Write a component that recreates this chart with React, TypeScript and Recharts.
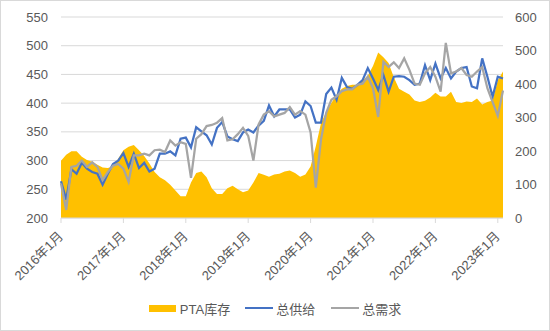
import { Area, CartesianGrid, ComposedChart, Legend, Line, XAxis, YAxis } from "recharts";

const years = [2016, 2017, 2018, 2019, 2020, 2021, 2022, 2023];
const lastYearMonths = 2;

// PTA库存 (right axis)
const inventory = [
  171, 189, 199, 199, 183, 173, 168, 159, 151, 149, 154, 177,
  202, 213, 218, 202, 185, 163, 137, 122, 113, 99, 82, 65,
  65, 106, 134, 139, 122, 89, 72, 72, 89, 96, 86, 77,
  82, 106, 134, 129, 123, 130, 132, 139, 142, 134, 123, 130,
  154, 214, 283, 317, 343, 369, 386, 394, 398, 398, 411, 425,
  454, 494, 480, 463, 420, 386, 377, 369, 351, 346, 350, 360,
  374, 363, 363, 377, 346, 343, 348, 346, 357, 339, 346, 351,
  411, 437,
];

// 总供给 (left axis)
const supply = [
  264, 232, 285, 277, 296, 286, 280, 277, 258, 277, 294, 300,
  313, 289, 312, 287, 296, 281, 286, 312, 312, 316, 309, 338,
  340, 323, 358, 351, 344, 328, 357, 367, 342, 337, 334, 349,
  354, 349, 361, 369, 396, 377, 389, 389, 389, 375, 380, 403,
  395, 366, 366, 416, 427, 406, 444, 428, 425, 432, 440, 461,
  443, 423, 449, 420, 446, 447, 446, 440, 432, 434, 466, 440,
  469, 443, 461, 443, 455, 461, 463, 429, 426, 478, 446, 411,
  446, 443,
];

// 总需求 (left axis)
const demand = [
  260, 214, 289, 291, 300, 289, 297, 289, 266, 280, 291, 294,
  286, 263, 309, 309, 312, 309, 318, 319, 315, 335, 326, 332,
  329, 270, 338, 346, 360, 362, 366, 374, 335, 337, 346, 357,
  343, 300, 363, 380, 386, 377, 380, 383, 393, 380, 386, 380,
  349, 253, 337, 383, 406, 412, 421, 424, 424, 432, 434, 446,
  426, 376, 472, 463, 471, 461, 478, 458, 434, 432, 452, 463,
  446, 420, 505, 452, 455, 461, 449, 446, 455, 463, 426, 402,
  378, 422,
];

const leftTicks = [200, 250, 300, 350, 400, 450, 500, 550];
const rightTicks = [0, 100, 200, 300, 400, 500, 600];

const months: string[] = [];
years.forEach((y, yi) => {
  const count = yi === years.length - 1 ? lastYearMonths : 12;
  for (let m = 1; m <= count; m++) months.push(`${y}年${m}月`);
});

const data = months.map((label, i) => ({
  label,
  inventory: inventory[i],
  supply: supply[i],
  demand: demand[i],
}));

const FONT = '"Liberation Sans", "Noto Sans CJK SC", sans-serif';
const TEXT = "#595959";

function XTick(props: any) {
  const { x, y, payload } = props;
  return (
    <text
      x={x + 3}
      y={y + 12}
      textAnchor="end"
      fill={TEXT}
      fontSize={13}
      fontFamily={FONT}
      transform={`rotate(-45, ${x + 3}, ${y + 12})`}
    >
      {payload.value}
    </text>
  );
}

function LegendBox() {
  const item = { display: "flex", alignItems: "center" } as const;
  return (
    <div
      style={{
        display: "flex",
        justifyContent: "center",
        alignItems: "center",
        height: 24,
        fontFamily: FONT,
        fontSize: 13,
        color: TEXT,
      }}
    >
      <div style={item}>
        <span style={{ width: 27, height: 7, background: "#FFC000", marginRight: 4 }} />
        PTA库存
      </div>
      <div style={{ ...item, marginLeft: 15 }}>
        <span style={{ width: 28, height: 2, background: "#4472C4", marginRight: 3 }} />
        总供给
      </div>
      <div style={{ ...item, marginLeft: 16 }}>
        <span style={{ width: 28, height: 2, background: "#A5A5A5", marginRight: 3 }} />
        总需求
      </div>
    </div>
  );
}

export default function App() {
  return (
    <div
      style={{
        position: "absolute",
        left: 0,
        top: 0,
        width: 550,
        height: 331,
        boxSizing: "border-box",
        border: "1px solid #d9d9d9",
        background: "#fff",
      }}
    >
      <div style={{ position: "absolute", left: -1, top: -1 }}>
        <ComposedChart
          width={550}
          height={331}
          data={data}
          margin={{ top: 17, right: 0, left: 0, bottom: 11 }}
        >
          <CartesianGrid yAxisId="left" vertical={false} stroke="#d9d9d9" />
          <XAxis
            dataKey="label"
            scale="point"
            interval={11}
            height={78}
            tick={<XTick />}
            axisLine={{ stroke: "#d9d9d9" }}
            tickLine={{ stroke: "#d9d9d9" }}
            tickSize={5}
          />
          <YAxis
            yAxisId="left"
            domain={[200, 550]}
            ticks={leftTicks}
            width={61}
            axisLine={false}
            tickLine={false}
            tickMargin={7}
            tick={{ fill: TEXT, fontSize: 13, fontFamily: FONT }}
          />
          <YAxis
            yAxisId="right"
            orientation="right"
            domain={[0, 600]}
            ticks={rightTicks}
            width={47}
            axisLine={false}
            tickLine={false}
            tickMargin={6}
            tick={{ fill: TEXT, fontSize: 13, fontFamily: FONT, textAnchor: "start" }}
          />
          <Legend
            verticalAlign="bottom"
            wrapperStyle={{ height: 24 }}
            content={() => <LegendBox />}
          />
          <Area
            yAxisId="right"
            type="linear"
            dataKey="inventory"
            name="PTA库存"
            fill="#FFC000"
            fillOpacity={1}
            stroke="none"
            isAnimationActive={false}
          />
          <Line
            yAxisId="left"
            type="linear"
            dataKey="supply"
            name="总供给"
            stroke="#4472C4"
            strokeWidth={2.25}
            dot={false}
            isAnimationActive={false}
          />
          <Line
            yAxisId="left"
            type="linear"
            dataKey="demand"
            name="总需求"
            stroke="#A5A5A5"
            strokeWidth={2.25}
            dot={false}
            isAnimationActive={false}
          />
        </ComposedChart>
      </div>
    </div>
  );
}
